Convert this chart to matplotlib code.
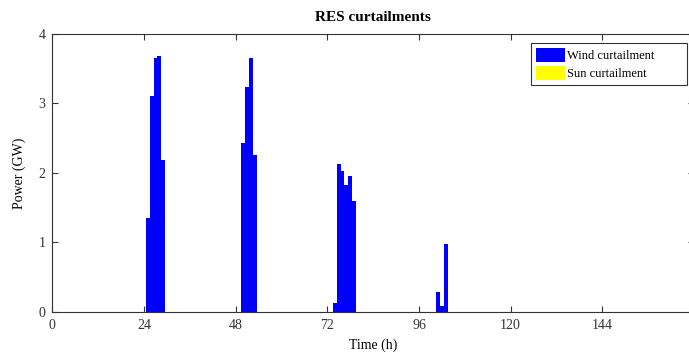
import numpy as np
import matplotlib
matplotlib.use("Agg")
import matplotlib.pyplot as plt

plt.rcParams['font.family'] = ['Liberation Serif', 'DejaVu Serif']

# hours with curtailment (bar centres) and values in GW
hours = [25, 26, 27, 28, 29,
         50, 51, 52, 53,
         74, 75, 76, 77, 78, 79,
         101, 102, 103]
wind_curt = [1.35, 3.11, 3.65, 3.68, 2.19,
             2.43, 3.23, 3.65, 2.26,
             0.13, 2.13, 2.03, 1.82, 1.96, 1.60,
             0.29, 0.08, 0.98]
sun_curt = [0, 0, 0, 0, 0,
            0, 0, 0, 0,
            0, 0, 0, 0, 0, 0,
            0, 0, 0]
xticks = [0, 24, 48, 72, 96, 120, 144]
yticks = [0, 1, 2, 3, 4]

fig = plt.figure(figsize=(6.89, 3.54), dpi=100)
ax = fig.add_axes([0.0759, 0.1195, 0.9313, 0.7845])

ax.bar(hours, wind_curt, width=1.0, color='#0000ff', linewidth=0, label='Wind curtailment')
ax.bar(hours, sun_curt, width=1.0, bottom=wind_curt, color='#ffff00', linewidth=0, label='Sun curtailment')

ax.set_xlim(0, 168)
ax.set_ylim(0, 4)
ax.set_xticks(xticks)
ax.set_yticks(yticks)
ax.tick_params(direction='in', top=True, right=True, length=4, width=0.8,
               labelsize=10, colors='#333333', pad=5)
for s in ax.spines.values():
    s.set_color('#333333')
    s.set_linewidth(0.8)

ax.set_xlabel('Time (h)', fontsize=10, labelpad=5)
ax.set_ylabel('Power (GW)', fontsize=10, labelpad=9)
ax.set_title('RES curtailments', fontsize=11, fontweight='bold', pad=9)

# legend box stretched like the matlab one
leg = ax.legend(loc='upper left', bbox_to_anchor=(0.746, 0.819, 0.243, 0.1475),
                mode='expand', fontsize=9,
                fancybox=False, framealpha=1, edgecolor='#333333',
                handlelength=2.3, handleheight=1.35, handletextpad=0.16,
                labelspacing=0.25, borderpad=0.4, borderaxespad=0)
leg.get_frame().set_linewidth(0.8)

fig.savefig('out.png', dpi=100)
